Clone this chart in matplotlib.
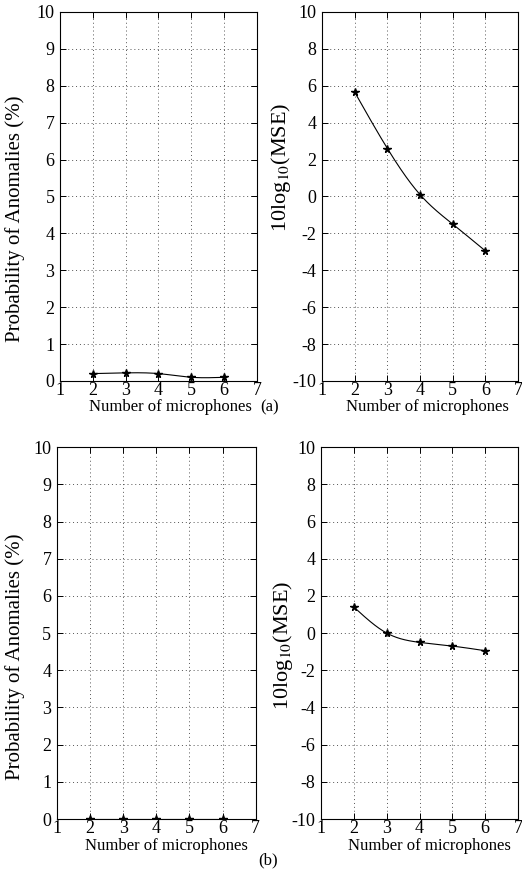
import numpy as np
import matplotlib
matplotlib.use("Agg")
import matplotlib.pyplot as plt

plt.rcParams['font.family'] = ['Liberation Serif', 'DejaVu Serif']
plt.rcParams['mathtext.fontset'] = 'stix'
plt.rcParams['axes.unicode_minus'] = False

# data
mics = [2, 3, 4, 5, 6]
anom_a = [0.2, 0.22, 0.2, 0.1, 0.1]
mse_a = [5.65, 2.6, 0.1, -1.5, -2.95]
anom_b = [0.0, 0.0, 0.0, 0.0, 0.0]
mse_b = [1.4, 0.0, -0.5, -0.7, -0.95]

x_ticks = [1, 2, 3, 4, 5, 6, 7]
anom_ticks = list(range(0, 11))
mse_ticks = list(range(-10, 11, 2))


def smooth(x, y, n=200):
    # natural cubic spline, only for drawing the line (like MATLAB 'spline')
    x = np.asarray(x, float)
    y = np.asarray(y, float)
    h = np.diff(x)
    m = len(x)
    A = np.zeros((m, m))
    r = np.zeros(m)
    A[0, 0] = A[-1, -1] = 1
    for i in range(1, m - 1):
        A[i, i - 1] = h[i - 1]
        A[i, i] = 2 * (h[i - 1] + h[i])
        A[i, i + 1] = h[i]
        r[i] = 6 * ((y[i + 1] - y[i]) / h[i] - (y[i] - y[i - 1]) / h[i - 1])
    M = np.linalg.solve(A, r)
    xs = np.linspace(x[0], x[-1], n)
    k = np.clip(np.searchsorted(x, xs) - 1, 0, m - 2)
    t0 = xs - x[k]
    t1 = x[k + 1] - xs
    hk = h[k]
    ys = (M[k] * t1**3 + M[k + 1] * t0**3) / (6 * hk) \
        + (y[k] / hk - M[k] * hk / 6) * t1 + (y[k + 1] / hk - M[k + 1] * hk / 6) * t0
    return xs, ys


def panel(rect, y, ylim, yticks, ylabel, ylab_pos, ylab_size, xlab_x):
    ax = fig.add_axes(rect)
    xs, ys = smooth(mics, y)
    ax.plot(xs, ys, color='black', lw=0.8)
    ax.plot(mics, y, ls='none', marker='*', color='black', ms=5.5)
    ax.set_xlim(1, 7)
    ax.set_ylim(*ylim)
    ax.set_xticks(x_ticks)
    ax.set_yticks(yticks)
    ax.grid(True, ls=(0, (1, 3)), color='#555555', lw=0.7)
    ax.tick_params(direction='in', length=4, top=True, right=True,
                   labelsize=13, width=0.7)
    ax.tick_params(axis='x', pad=1)
    ax.tick_params(axis='y', pad=4)
    for s in ax.spines.values():
        s.set_linewidth(0.8)
    ax.set_xlabel('Number of microphones', fontsize=12)
    ax.xaxis.set_label_coords(xlab_x, -0.05)
    ax.set_ylabel(ylabel, fontsize=ylab_size)
    ax.yaxis.set_label_coords(*ylab_pos)
    return ax


fig = plt.figure(figsize=(5.22, 8.75), dpi=100)

panel([0.115, 0.5646, 0.377, 0.4217], anom_a, (0, 10), anom_ticks,
      'Probability of Anomalies (%)', (-0.178, 0.44), 15, 0.56)
panel([0.617, 0.5646, 0.3755, 0.4217], mse_a, (-10, 10), mse_ticks,
      r'10log$_{10}$(MSE)', (-0.147, 0.58), 16, 0.54)
panel([0.109, 0.064, 0.381, 0.425], anom_b, (0, 10), anom_ticks,
      'Probability of Anomalies (%)', (-0.16, 0.435), 15, 0.55)
panel([0.615, 0.064, 0.3774, 0.425], mse_b, (-10, 10), mse_ticks,
      r'10log$_{10}$(MSE)', (-0.13, 0.468), 16, 0.55)

fig.text(270 / 522, 1 - 407 / 875, '(a)', ha='center', va='center', fontsize=12)
fig.text(268 / 522, 1 - 860 / 875, '(b)', ha='center', va='center', fontsize=12)

fig.savefig('out.png', dpi=100)
